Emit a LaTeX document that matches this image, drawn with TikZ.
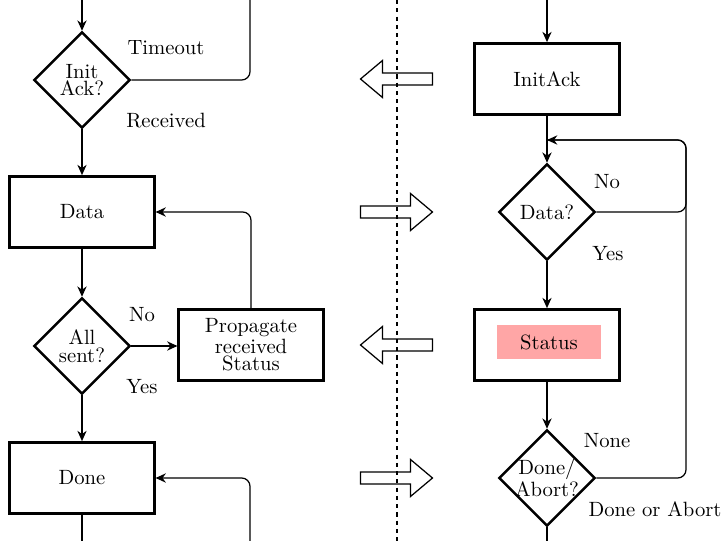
\documentclass[tikz,border=0pt]{standalone}
\usepackage{amsmath}
\usetikzlibrary{shapes.geometric,arrows.meta}
\definecolor{statuspink}{RGB}{255,166,166}

\begin{document}
\begin{tikzpicture}[x=0.484pt,y=-0.484pt,
			box/.style={draw,line width=1.2pt,minimum width=70pt,minimum height=34.5pt,inner sep=1pt,align=center},
			decision/.style={draw,diamond,line width=1.2pt,minimum width=46.5pt,minimum height=46.5pt,inner sep=0pt,align=center},
			tight/.style={font=\fontsize{10pt}{8.5pt}\selectfont},
			flow/.style={semithick,-{Stealth[length=5pt,width=4.5pt]}},
			link/.style={semithick,rounded corners=4pt},
			lbl/.style={inner sep=0pt},
			blockarrow/.pic={\draw[semithick] (-36,0) -- (-14,-18.5) -- (-14,-6) -- (36,-6) -- (36,6) -- (-14,6) -- (-14,18.5) -- cycle;}]
			\useasboundingbox (0,0) rectangle (726,541);
			\coordinate (lefttop) at (82,0);
			\coordinate (timeouttop) at (250,0);
			\coordinate (leftbottom) at (82,541);
			\coordinate (returnbottom) at (250,541);
			\coordinate (righttop) at (547,0);
			\coordinate (rightbottom) at (547,541);
			\coordinate (looptop) at (686,140);
			\coordinate (loopin) at (547,140);
			\coordinate (midtop) at (397,0);
			\coordinate (midbottom) at (397,541);
			\node[decision,tight] (initack) at (82,80) {Init\\Ack?};
			\node[box] (data) at (82,212) {Data};
			\node[decision,tight] (allsent) at (82,346) {All\\sent?};
			\node[box,tight] (propagate) at (251,345) {Propagate\\received\\Status};
			\node[box] (done) at (82,478) {Done};
			\node[box] (initackbox) at (547,79) {InitAck};
			\node[decision] (dataq) at (547,212) {Data?};
			\node[box] (statusbox) at (547,345) {};
			\node[fill=statuspink,minimum width=50.8pt,minimum height=16pt,inner sep=0pt] (status) at (549,342) {Status};
			\node[decision,tight,inner sep=-1pt] (doneq) at (547,478) {Done/\\Abort?};
			\node[lbl] (timeout) at (166,48) {Timeout};
			\node[lbl] (received) at (166,121) {Received};
			\node[lbl] (sentno) at (142,315) {No};
			\node[lbl] (sentyes) at (142,387) {Yes};
			\node[lbl] (datano) at (607,182) {No};
			\node[lbl] (datayes) at (608,254) {Yes};
			\node[lbl] (none) at (607,441) {None};
			\node[lbl] (doneabort) at (655,509) {Done or Abort};
			\draw[flow] (lefttop) -- (initack.north);
			\draw[link] (initack.east) -| (timeouttop);
			\draw[flow] (initack.south) -- (data.north);
			\draw[flow] (data.south) -- (allsent.north);
			\draw[flow] (allsent.east) -- (allsent.east -| propagate.west);
			\draw[flow,link] (propagate.north) |- (data.east);
			\draw[flow] (allsent.south) -- (done.north);
			\draw[flow,link] (returnbottom) |- (done.east);
			\draw[semithick] (done.south) -- (leftbottom);
			\draw[flow] (righttop) -- (initackbox.north);
			\draw[flow] (initackbox.south) -- (dataq.north);
			\draw[flow,link] (dataq.east) -| (looptop) -- (loopin);
			\draw[flow] (dataq.south) -- (statusbox.north);
			\draw[flow] (statusbox.south) -- (doneq.north);
			\draw[link] (doneq.east) -| (looptop) -- (loopin);
			\draw[semithick] (doneq.south) -- (rightbottom);
			\draw[semithick,dash pattern=on 2pt off 2pt] (midtop) -- (midbottom);
			\pic at (396.5,79) {blockarrow};
			\pic[xscale=-1] at (396.5,212) {blockarrow};
			\pic at (396.5,345) {blockarrow};
			\pic[xscale=-1] at (396.5,478) {blockarrow};
			\end{tikzpicture}
\end{document}
